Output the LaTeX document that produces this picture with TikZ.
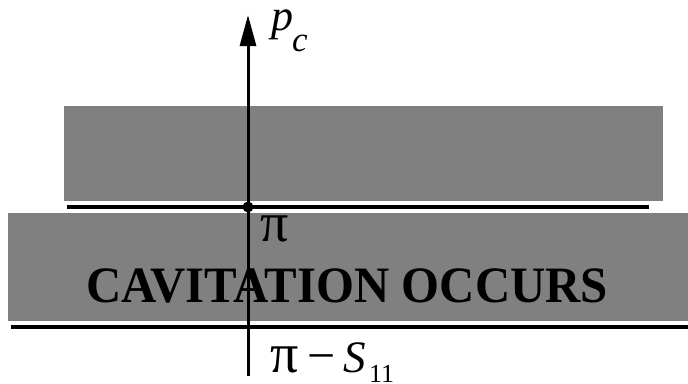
\documentclass[tikz,border=0pt]{standalone}
\usepackage{fontspec}
\setmainfont{Liberation Serif}
\usetikzlibrary{arrows.meta}
\begin{document}
\begin{tikzpicture}[x=1pt,y=-1pt,
  band/.style={fill=black!50,draw=none},
  level/.style={line width=3.2pt,draw=black},
  lbl/.style={anchor=base west,inner sep=0pt,outer sep=0pt}]
\useasboundingbox (0,0) rectangle (688,383);
% gray bands
\fill[band] (64,106) rectangle (663,201);
\fill[band] (8,213) rectangle (688,321);
% text in the lower band
\node[lbl] (cav) at (86,302) {\scalebox{0.957}[1]{\fontsize{51}{51}\selectfont\bfseries CAVITATION OCCURS}};
% level lines
\coordinate (l1a) at (67,207);
\coordinate (l1b) at (649,207);
\coordinate (l2a) at (11,327);
\coordinate (l2b) at (688,327);
\draw[level] (l1a) -- (l1b);
\draw[level] (l2a) -- (l2b);
% axis
\coordinate (axb) at (248,376);
\coordinate (axt) at (248,15);
\draw[line width=3pt,-{Triangle[length=31pt,width=16pt]}] (axb) -- (axt);
\fill (248,207) circle (5.5pt);
% labels
\node[lbl] (p) at (271,30) {\fontsize{44}{44}\selectfont\itshape p};
\node[lbl] (c) at (292,51) {\fontsize{35}{35}\selectfont\itshape c};
\node[lbl] (pi1) at (260,241) {\fontsize{56}{56}\selectfont π};
\node[lbl] (pi2) at (270,372) {\fontsize{56}{56}\selectfont π};
\node[lbl] (minus) at (307,372) {\fontsize{50}{50}\selectfont −};
\node[lbl] (S) at (343,372) {\fontsize{45}{45}\selectfont\itshape S};
\node[lbl] (sub) at (369,382) {\fontsize{26}{26}\selectfont 11};
\end{tikzpicture}
\end{document}
